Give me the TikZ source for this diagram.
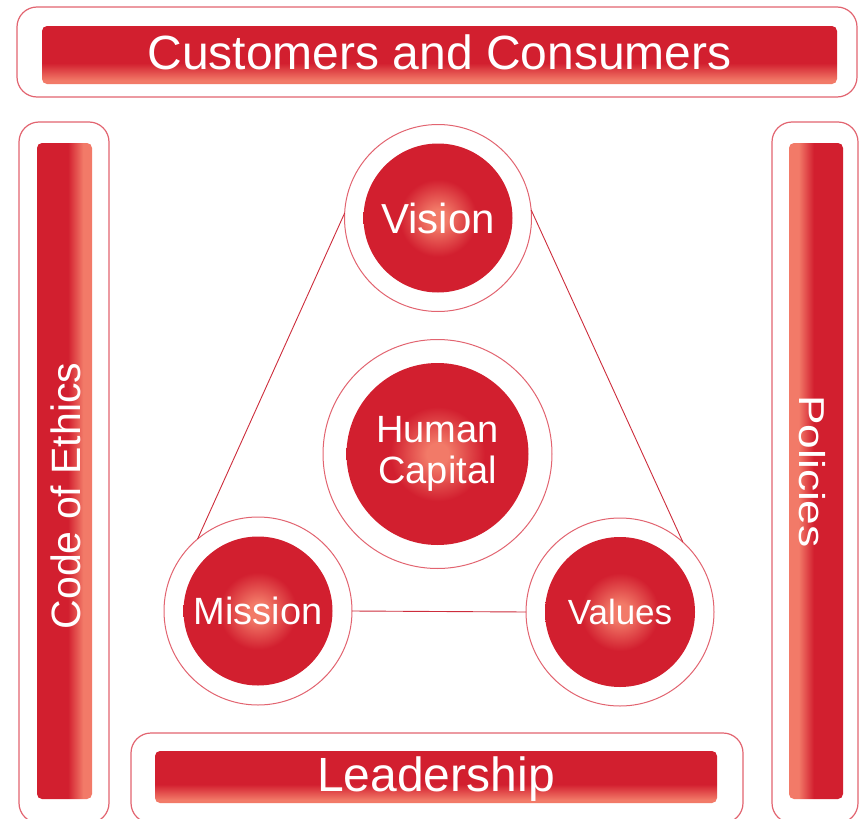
\documentclass[tikz,border=0pt]{standalone}
\usepackage{fontspec}
\setmainfont{Liberation Sans}
\definecolor{bardark}{RGB}{210,31,47}
\definecolor{barlight}{RGB}{242,122,104}
\definecolor{edgered}{RGB}{226,100,112}
\definecolor{linkred}{RGB}{205,45,60}
\pgfdeclareverticalshading{barbottom}{100bp}{color(0bp)=(barlight); color(28bp)=(barlight); color(43bp)=(bardark); color(100bp)=(bardark)}
\pgfdeclarehorizontalshading{barright}{100bp}{color(0bp)=(bardark); color(53bp)=(bardark); color(67bp)=(barlight); color(100bp)=(barlight)}
\pgfdeclarehorizontalshading{barleft}{100bp}{color(0bp)=(barlight); color(34bp)=(barlight); color(48bp)=(bardark); color(100bp)=(bardark)}
\pgfdeclareradialshading{ballglow}{\pgfpoint{0bp}{0bp}}{color(0bp)=(barlight); color(3bp)=(barlight); color(13bp)=(bardark); color(50bp)=(bardark)}
\begin{document}
\begin{tikzpicture}[x=1pt, y=-1pt,
  frame/.style={draw=edgered, line width=1.2pt, fill=white, rounded corners=20pt},
  bar/.style={shade, rounded corners=5pt, inner sep=0pt, text=white},
  bartext/.style={text=white, inner sep=0pt},
  ring/.style={circle, draw=edgered, line width=1pt, fill=white, inner sep=0pt, outer sep=0pt},
  ball/.style={circle, shade, shading=ballglow, inner sep=0pt, text=white, align=center},
  link/.style={draw=linkred, line width=0.9pt}]
\useasboundingbox (0,0) rectangle (860,819);

% outer frames
\draw[frame] (17,7) rectangle (857,97);
\draw[frame] (19,122) rectangle (109,823);
\draw[frame] (772,122) rectangle (858,823);
\draw[frame] (131,733) rectangle (743,823);

% bars
\node[bar, shading=barbottom, minimum width=795, minimum height=58,
      text height=34.6pt, text depth=4.8pt,
      font=\fontsize{48}{50}\selectfont] (customers) at (439.5,55) {Customers and Consumers};
\node[bar, shading=barbottom, minimum width=562, minimum height=52,
      text height=34.6pt, text depth=4.8pt,
      font=\fontsize{48}{50}\selectfont] (leadership) at (436,777) {Leadership};
\node[bar, shading=barright, minimum width=55, minimum height=656] (ethics) at (64.5,471) {};
\node[bar, shading=barleft, minimum width=54, minimum height=656] (policies) at (816,471) {};
\node[bartext, rotate=90, text height=29.5pt, text depth=4.1pt,
      font=\fontsize{41}{43}\selectfont] (ethicstext) at (68,496) {Code of Ethics};
\node[bartext, rotate=-90, text height=25.9pt, text depth=3.6pt,
      font=\fontsize{36}{38}\selectfont] (policiestext) at (811,471.5) {\scalebox{1.23}[1]{Policies}};

% rings
\node[ring, minimum size=187] (visionring) at (438,218) {};
\node[ring, minimum size=229] (capitalring) at (437.5,454) {};
\node[ring, minimum size=188] (missionring) at (258,611) {};
\node[ring, minimum size=188] (valuesring) at (620,612) {};

% links
\draw[link] (visionring.177) -- (missionring.130);
\draw[link] (visionring.5) -- (valuesring.48);
\draw[link] (missionring.0) -- (valuesring.180);

% balls
\node[ball, minimum size=149, font=\fontsize{42}{44}\selectfont] (vision) at (visionring) {Vision};
\node[ball, minimum size=182, font=\fontsize{38}{41}\selectfont] (capital) at (capitalring) {Human\\Capital};
\node[ball, minimum size=149, font=\fontsize{38}{40}\selectfont] (mission) at (missionring) {Mission};
\node[ball, minimum size=150, font=\fontsize{35}{37}\selectfont] (values) at (valuesring) {Values};
\end{tikzpicture}
\end{document}
